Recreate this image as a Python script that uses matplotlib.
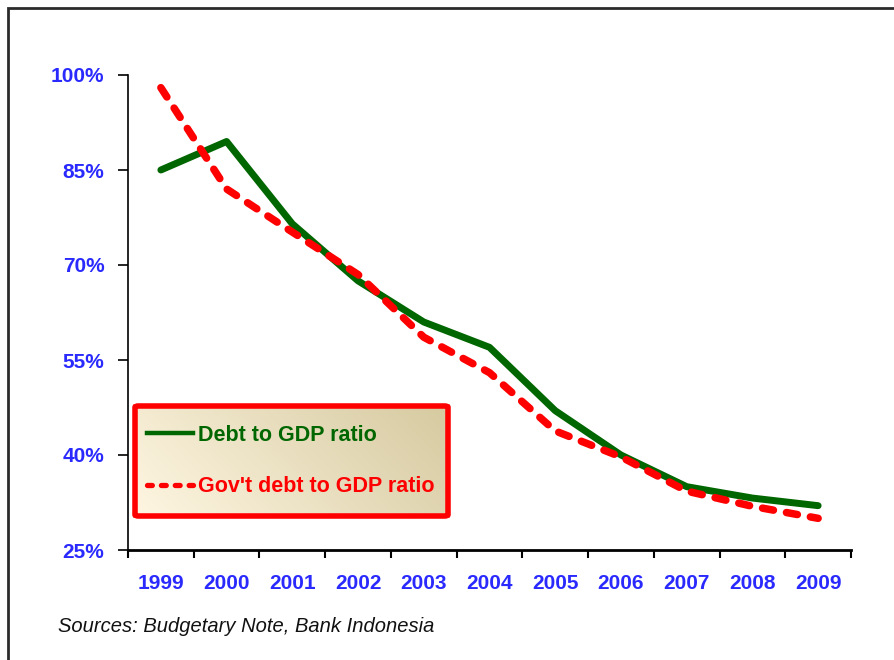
import numpy as np
import matplotlib.pyplot as plt
from matplotlib import font_manager
from matplotlib.patches import FancyBboxPatch, Rectangle
from matplotlib.lines import Line2D

years = ['1999', '2000', '2001', '2002', '2003', '2004', '2005', '2006', '2007', '2008', '2009']
debt_gdp = [85.0, 89.5, 76.5, 67.5, 61.0, 57.0, 47.0, 40.0, 35.0, 33.2, 32.0]
gov_debt_gdp = [98.0, 82.0, 75.2, 68.5, 58.6, 53.0, 43.8, 39.7, 34.3, 31.9, 30.0]
y_ticks = [25, 40, 55, 70, 85, 100]

green = '#006600'
red = '#ff0000'
blue = '#2a2aff'

installed = {f.name for f in font_manager.fontManager.ttflist}
narrow = 'Liberation Sans Narrow' if 'Liberation Sans Narrow' in installed else 'Liberation Sans'
plt.rcParams['font.family'] = ['Liberation Sans', 'DejaVu Sans']
plt.rcParams['lines.scale_dashes'] = False

fig = plt.figure(figsize=(8.95, 6.6), dpi=100)
W, H = 895, 660

# outer frame (runs off the right and bottom edges)
fig.patches.append(Rectangle((8 / W, -0.2), 1.2, 1.2 - 8 / H, transform=fig.transFigure,
                             fill=False, edgecolor='#2b2b2b', linewidth=2))

ax = fig.add_axes([128 / W, 110 / H, (851 - 128) / W, (550 - 75) / H])
x = np.arange(len(years))

ax.plot(x, debt_gdp, color=green, linewidth=5, solid_capstyle='round',
        solid_joinstyle='round', zorder=3)
ax.plot(x, gov_debt_gdp, color=red, linewidth=5.4, dashes=(8, 9.5),
        dash_capstyle='round', zorder=4)

ax.set_xlim(-0.5, len(years) - 0.5)
ax.set_ylim(25, 100)

ax.set_yticks(y_ticks)
ax.set_yticklabels([f'{v}%' for v in y_ticks])
ax.tick_params(axis='y', direction='out', length=7, width=1.2, pad=10,
               labelcolor=blue, labelsize=15)
for t in ax.get_yticklabels():
    t.set_fontweight('bold')

ax.set_xticks(x)
ax.set_xticklabels(years)
ax.set_xticks(np.arange(len(years) + 1) - 0.5, minor=True)
ax.tick_params(axis='x', which='major', length=0, pad=17, labelcolor=blue, labelsize=15)
ax.tick_params(axis='x', which='minor', direction='out', length=6, width=1.5)
for t in ax.get_xticklabels():
    t.set_fontweight('bold')
    t.set_family(narrow)

for side in ['top', 'right']:
    ax.spines[side].set_visible(False)
ax.spines['left'].set_linewidth(1.2)
ax.spines['bottom'].set_linewidth(2)

# legend panel with a diagonal cream-to-tan gradient
legax = fig.add_axes([135 / W, (H - 516) / H, (448 - 135) / W, (516 - 406) / H])
gx, gy = np.meshgrid(np.linspace(0, 1, 200), np.linspace(0, 1, 60))
g = np.clip((gx * 0.75 + gy * 0.25), 0, 1)
c0 = np.array([254, 246, 226]) / 255
c1 = np.array([214, 202, 160]) / 255
grad = c0[None, None, :] * (1 - g[..., None]) + c1[None, None, :] * g[..., None]
legax.imshow(grad, extent=[0, 1, 0, 1], aspect='auto', origin='lower', zorder=0)
legax.set_xlim(0, 1)
legax.set_ylim(0, 1)
legax.axis('off')
legax.add_patch(FancyBboxPatch((0, 0), 1, 1, boxstyle='round,pad=0,rounding_size=0.012',
                               transform=legax.transAxes, fill=False, edgecolor=red,
                               linewidth=4, clip_on=False, zorder=5))

handles = [Line2D([], [], color=green, linewidth=3.2),
           Line2D([], [], color=red, linewidth=3.8, dashes=(3.5, 6.5), dash_capstyle='round')]
leg = legax.legend(handles, ['Debt to GDP ratio', "Gov't debt to GDP ratio"],
                   loc='center left', bbox_to_anchor=(0.01, 0.5), frameon=False,
                   prop={'size': 15.5, 'weight': 'bold'}, handlelength=2.15,
                   handletextpad=0.25, labelspacing=1.4, borderaxespad=0)
for txt, col in zip(leg.get_texts(), [green, red]):
    txt.set_color(col)

fig.text(58 / W, 1 - 626 / H, 'Sources: Budgetary Note, Bank Indonesia', family=narrow,
         style='italic', fontsize=14.5, color='#111111', va='center', ha='left')

fig.savefig('out.png', dpi=100)
